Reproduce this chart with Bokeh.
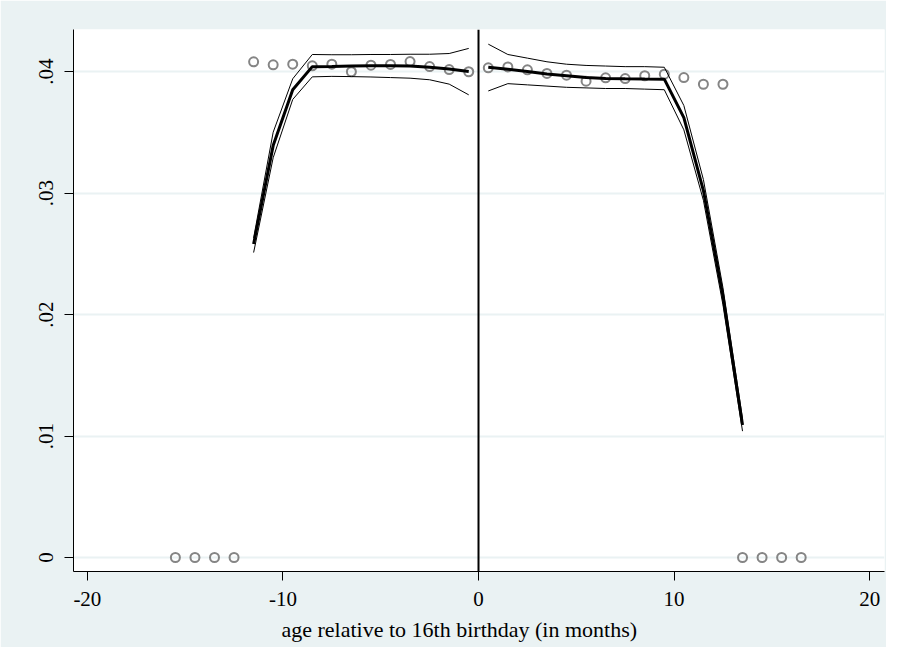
from bokeh.plotting import figure
from bokeh.models import Span, FixedTicker, Range1d, Title, ColumnDataSource
from bokeh.embed import file_html
from bokeh.resources import INLINE

# ---- data ----
bin_x = [-15.5, -14.5, -13.5, -12.5,
         -11.5, -10.5, -9.5, -8.5, -7.5, -6.5, -5.5, -4.5, -3.5, -2.5, -1.5, -0.5,
         0.5, 1.5, 2.5, 3.5, 4.5, 5.5, 6.5, 7.5, 8.5, 9.5, 10.5, 11.5, 12.5,
         13.5, 14.5, 15.5, 16.5]
bin_mean = [0.0, 0.0, 0.0, 0.0,
            0.0408, 0.04055, 0.0406, 0.04047, 0.0406, 0.03998, 0.04052, 0.04058,
            0.04082, 0.04041, 0.04016, 0.03998,
            0.0403, 0.04038, 0.04014, 0.03984, 0.0397, 0.0392, 0.03948, 0.03942,
            0.03965, 0.03978, 0.0395, 0.03895, 0.03895,
            0.0, 0.0, 0.0, 0.0]

fit_left_x = [-11.5, -10.5, -9.5, -8.5, -7.5, -6.5, -5.5, -4.5, -3.5, -2.5, -1.5, -0.5]
fit_left = [0.0258, 0.0339, 0.0385, 0.0404, 0.04042, 0.04045, 0.04047, 0.04048,
            0.04045, 0.04035, 0.0402, 0.0400]
upper_left = [0.0263, 0.0350, 0.0394, 0.0414, 0.04138, 0.04138, 0.0414, 0.0414,
              0.04142, 0.04142, 0.04148, 0.0419]
lower_left = [0.0251, 0.0329, 0.0377, 0.03956, 0.0396, 0.03958, 0.03955, 0.0395,
              0.03945, 0.03932, 0.03896, 0.03808]

fit_right_x = [0.5, 1.5, 2.5, 3.5, 4.5, 5.5, 6.5, 7.5, 8.5, 9.5, 10.5, 11.5, 12.5, 13.5]
fit_right = [0.04035, 0.04018, 0.0400, 0.0398, 0.03965, 0.0395, 0.03943, 0.0394,
             0.03938, 0.03937, 0.0362, 0.0302, 0.0215, 0.0109]
upper_right = [0.04225, 0.0414, 0.0411, 0.0408, 0.0406, 0.0405, 0.04045, 0.0404,
               0.0404, 0.04035, 0.0372, 0.0311, 0.0222, 0.0114]
lower_right = [0.0384, 0.0390, 0.0389, 0.0388, 0.0387, 0.03865, 0.0386, 0.0386,
               0.03855, 0.0385, 0.0352, 0.0294, 0.0208, 0.0104]

x_ticks = [-20, -10, 0, 10, 20]
x_tick_labels = ["-20", "-10", "0", "10", "20"]
y_ticks = [0.0, 0.01, 0.02, 0.03, 0.04]
y_tick_labels = ["0", ".01", ".02", ".03", ".04"]
x_title = "age relative to 16th birthday (in months)"

# ---- styling ----
BG = "#EAF2F3"
FONT = "Liberation Serif"
FS = "21px"

p = figure(frame_width=811, frame_height=542,
           x_range=Range1d(-20.71, 20.76), y_range=Range1d(-0.001152, 0.043457),
           output_backend="svg", toolbar_location=None,
           min_border_left=73, min_border_right=2, min_border_top=29, min_border_bottom=75)
p.border_fill_color = BG
p.background_fill_color = "white"
p.outline_line_color = None

p.xgrid.visible = False
p.ygrid.ticker = FixedTicker(ticks=y_ticks)
p.ygrid.grid_line_color = BG
p.ygrid.grid_line_width = 2

for ax in (p.xaxis[0], p.yaxis[0]):
    ax.axis_line_color = "black"
    ax.axis_line_width = 1
    ax.major_tick_line_color = "black"
    ax.major_tick_in = 0
    ax.major_tick_out = 9
    ax.minor_tick_line_color = None
    ax.major_label_text_font = FONT
    ax.major_label_text_font_size = FS
    ax.major_label_text_color = "black"

p.xaxis.ticker = FixedTicker(ticks=x_ticks)
p.xaxis.major_label_overrides = {t: l for t, l in zip(x_ticks, x_tick_labels)}
p.xaxis.major_label_standoff = 11
p.yaxis.ticker = FixedTicker(ticks=y_ticks)
p.yaxis.major_label_overrides = {t: l for t, l in zip(y_ticks, y_tick_labels)}
p.yaxis.major_label_orientation = "vertical"
p.yaxis.major_label_standoff = 11

p.add_layout(Title(text=x_title, align="left", offset=208, text_font=FONT,
                   text_font_size="22px", text_font_style="normal",
                   vertical_align="bottom", text_color="black", standoff=12), "below")

src = ColumnDataSource(dict(x=bin_x, y=bin_mean))
p.scatter("x", "y", source=src, marker="circle", size=9, fill_color=None,
          line_color="#858585", line_width=2)

for xs, ys in ((fit_left_x, upper_left), (fit_left_x, lower_left),
               (fit_right_x, upper_right), (fit_right_x, lower_right)):
    p.line(xs, ys, line_color="black", line_width=1)
p.line(fit_left_x, fit_left, line_color="black", line_width=3)
p.line(fit_right_x, fit_right, line_color="black", line_width=3)

p.add_layout(Span(location=0, dimension="height", line_color="black", line_width=2))

open("out.html", "w").write(file_html(p, INLINE))
